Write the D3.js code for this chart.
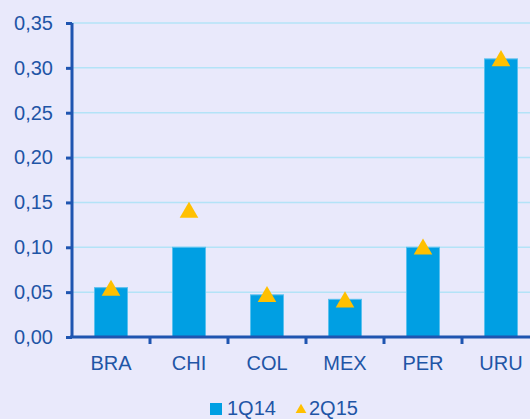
<!DOCTYPE html>
<html><head><meta charset="utf-8">
<script src="https://cdn.jsdelivr.net/npm/d3@7"></script>
<style>
html,body{margin:0;padding:0;background:#E9E9FB;}
svg{display:block;}
text{font-family:"Liberation Sans",Arial,sans-serif;fill:#1F55A6;}
</style></head>
<body><svg id="c" width="530" height="419"></svg>
<script>
const categories = ["BRA","CHI","COL","MEX","PER","URU"];
const series1Q14 = [0.055,0.100,0.047,0.042,0.100,0.310];
const series2Q15 = [0.053,0.140,0.046,0.040,0.099,0.309];
const yTicks = [0,0.05,0.10,0.15,0.20,0.25,0.30,0.35];
const seriesNames = ["1Q14","2Q15"];

const svg = d3.select("#c");
const W = 530, H = 419;
svg.append("rect").attr("width",W).attr("height",H).attr("fill","#E9E9FB");
const x = d3.scaleBand().domain(categories).range([72,540]).paddingInner(0).paddingOuter(0);
const y = d3.scaleLinear().domain([0,0.35]).range([337,23]);
const fmt = d => d3.format(".2f")(d).replace(".",",");

// gridlines
svg.append("g").selectAll("line").data(yTicks.slice(1)).join("line")
  .attr("x1",72).attr("x2",W).attr("y1",d=>y(d)).attr("y2",d=>y(d))
  .attr("stroke","#B3E3F7").attr("stroke-width",1.5);

// bars
const bw = 33;
svg.append("g").selectAll("rect").data(categories).join("rect")
  .attr("x",(d)=>x(d)+x.bandwidth()/2-bw/2).attr("width",bw)
  .attr("y",(d,i)=>y(series1Q14[i])).attr("height",(d,i)=>y(0)-y(series1Q14[i]))
  .attr("fill","#009FE3").attr("stroke","#5BC0EE").attr("stroke-width",1);

// triangles
const tri = d3.symbol().type(d3.symbolTriangle).size(150);
svg.append("g").selectAll("path").data(categories).join("path")
  .attr("d",tri)
  .attr("transform",(d,i)=>`translate(${x(d)+x.bandwidth()/2},${y(series2Q15[i])+1})`)
  .attr("fill","#FFC000");

// y axis
const ya = d3.axisLeft(y).tickValues(yTicks).tickFormat(fmt).tickSize(6).tickPadding(13);
const gy = svg.append("g").attr("transform","translate(72,0)").call(ya);
gy.select(".domain").attr("stroke","#1F55B0").attr("stroke-width",3).attr("d",`M0,${y(0.35)}V${y(0)}`);
gy.selectAll(".tick line").attr("stroke","#1F55B0").attr("stroke-width",3);
gy.selectAll(".tick text").style("font-size","20px").attr("fill","#1F55A6");

// x axis
const xa = d3.axisBottom(x).tickSize(0).tickPadding(19);
const gx = svg.append("g").attr("transform","translate(0,337)").call(xa);
gx.select(".domain").attr("stroke","#1F55B0").attr("stroke-width",3).attr("d","M70,0H540");
gx.selectAll(".tick text").style("font-size","20px").attr("fill","#1F55A6");
gx.selectAll(".sep").data(categories.slice(1)).join("line")
  .attr("x1",d=>x(d)).attr("x2",d=>x(d)).attr("y1",0).attr("y2",7)
  .attr("stroke","#1F55B0").attr("stroke-width",3);

// legend
const lg = svg.append("g");
lg.append("rect").attr("x",210).attr("y",403).attr("width",12).attr("height",12).attr("fill","#009FE3");
lg.append("text").attr("x",227).attr("y",414.5).text(seriesNames[0]).style("font-size","20px");
lg.append("path").attr("d",d3.symbol().type(d3.symbolTriangle).size(50))
  .attr("transform","translate(301,410)").attr("fill","#FFC000");
lg.append("text").attr("x",309).attr("y",414.5).text(seriesNames[1]).style("font-size","20px");
</script></body></html>
